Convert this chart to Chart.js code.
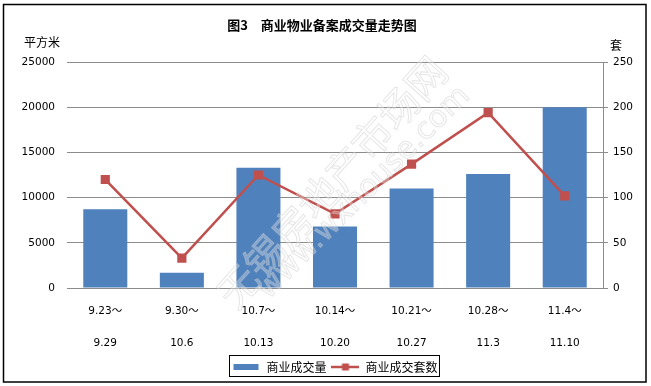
<!DOCTYPE html>
<html>
<head>
<meta charset="utf-8">
<script src="https://cdn.jsdelivr.net/npm/chart.js@4/dist/chart.umd.min.js"></script>
<style>
    body { margin: 0; background: #fff; }
</style>
</head>
<body>
<canvas id="chart" width="651" height="386"></canvas>
<script>
// weekly periods (two-line labels)
const periodStart = ['9.23～', '9.30～', '10.7～', '10.14～', '10.21～', '10.28～', '11.4～'];
const periodEnd   = ['9.29', '10.6', '10.13', '10.20', '10.27', '11.3', '11.10'];

// series
const areaSold  = [8700, 1700, 13300, 6800, 11000, 12600, 20000];   // 平方米
const unitsSold = [120, 33, 125, 82, 137, 194, 102];                 // 套

// axis ranges
const areaAxis  = { min: 0, max: 25000, step: 5000 };
const unitsAxis = { min: 0, max: 250, step: 50 };

const barColor  = '#4F81BD';
const lineColor = '#C0504D';
const gridColor = '#8C8C8C';
const tickFont  = { family: 'DejaVu Sans, "Noto Sans CJK SC"', size: 10.5 };
const cjkFont   = '"Noto Sans CJK SC", sans-serif';

// legend swatches drawn on small canvases
const makeSwatch = (draw) => {
    const c = document.createElement('canvas');
    c.width = 28; c.height = 10;
    draw(c.getContext('2d'));
    return c;
};
const barSwatch = makeSwatch(ctx => {
    ctx.fillStyle = barColor;
    ctx.fillRect(1, 2, 25, 6);
});
const lineSwatch = makeSwatch(ctx => {
    ctx.strokeStyle = lineColor;
    ctx.lineWidth = 2.5;
    ctx.beginPath(); ctx.moveTo(0, 5); ctx.lineTo(28, 5); ctx.stroke();
    ctx.fillStyle = lineColor;
    ctx.fillRect(10.5, 1.5, 7, 7);
});
const swatches = [barSwatch, lineSwatch];

// frame, title, axis units, watermark, legend border
const decorations = {
    id: 'decorations',
    afterLayout(chart) {
        // legend is centred on the plot area, not the whole canvas
        const shift = (chart.chartArea.left + chart.chartArea.right) / 2 - chart.width / 2;
        chart.legend.left += shift;
        chart.legend.right += shift;
    },
    beforeDraw(chart) {
        const ctx = chart.ctx;
        ctx.save();
        ctx.fillStyle = '#fff';
        ctx.fillRect(0, 0, chart.width, chart.height);
        ctx.strokeStyle = '#000';
        ctx.lineWidth = 1.5;
        ctx.strokeRect(3.5, 4.5, 642.5, 377.5);

        ctx.fillStyle = '#000';
        ctx.textAlign = 'center';
        ctx.textBaseline = 'middle';
        ctx.font = 'bold 13px ' + cjkFont;
        ctx.fillText('图3　商业物业备案成交量走势图', 322, 25);
        ctx.font = '12px ' + cjkFont;
        ctx.fillText('平方米', 42, 42);
        ctx.fillText('套', 616, 45);
        ctx.restore();
    },
    afterDatasetsDraw(chart) {
        const ctx = chart.ctx;
        ctx.save();
        ctx.textAlign = 'center';
        ctx.textBaseline = 'middle';
        ctx.lineWidth = 1;
        ctx.strokeStyle = 'rgba(200,200,200,0.45)';
        ctx.fillStyle = 'rgba(255,255,255,0.3)';

        ctx.save();
        ctx.translate(332, 182);
        ctx.rotate(-48 * Math.PI / 180);
        ctx.font = '40px ' + cjkFont;
        ctx.fillText('无锡房地产市场网', 0, 0);
        ctx.strokeText('无锡房地产市场网', 0, 0);
        ctx.restore();

        ctx.save();
        ctx.translate(364, 193);
        ctx.rotate(-45 * Math.PI / 180);
        ctx.font = '30px "DejaVu Sans", sans-serif';
        ctx.fillText('www.wxhouse.com', 0, 0);
        ctx.strokeText('www.wxhouse.com', 0, 0);
        ctx.restore();
        ctx.restore();
    },
    afterDraw(chart) {
        const boxes = chart.legend.legendHitBoxes;
        if (!boxes || !boxes.length) return;
        const first = boxes[0];
        const last = boxes[boxes.length - 1];
        const ctx = chart.ctx;
        ctx.save();
        ctx.strokeStyle = '#000';
        ctx.lineWidth = 1;
        ctx.strokeRect(Math.round(first.left) - 2.5, 355.5, Math.round(last.left + last.width - first.left) + 5, 21);
        ctx.restore();
    }
};

new Chart(document.getElementById('chart'), {
    type: 'bar',
    data: {
        labels: periodStart.map((s, i) => [s, periodEnd[i]]),
        datasets: [
            {
                label: '商业成交量',
                data: areaSold,
                backgroundColor: barColor,
                yAxisID: 'y',
                categoryPercentage: 1,
                barPercentage: 0.575,
                order: 2
            },
            {
                type: 'line',
                label: '商业成交套数',
                data: unitsSold,
                borderColor: lineColor,
                backgroundColor: lineColor,
                borderWidth: 2.5,
                pointStyle: 'rect',
                pointRadius: 6.5,
                pointHoverRadius: 6.5,
                pointBorderWidth: 0,
                tension: 0,
                yAxisID: 'y1',
                order: 1
            }
        ]
    },
    options: {
        responsive: false,
        animation: false,
        devicePixelRatio: 1,
        layout: {
            padding: { top: 62, bottom: 3, left: 0, right: 0 }
        },
        plugins: {
            title: { display: false },
            tooltip: { enabled: false },
            legend: {
                position: 'bottom',
                labels: {
                    usePointStyle: true,
                    pointStyleWidth: 28,
                    padding: 5,
                    color: '#000',
                    font: { family: cjkFont, size: 12 },
                    generateLabels(chart) {
                        const items = Chart.defaults.plugins.legend.labels.generateLabels(chart);
                        items.forEach(item => {
                            item.pointStyle = swatches[item.datasetIndex];
                        });
                        return items.sort((a, b) => a.datasetIndex - b.datasetIndex);
                    }
                }
            }
        },
        scales: {
            x: {
                grid: { display: false, drawTicks: false },
                border: { display: false },
                ticks: {
                    color: '#000',
                    font: { ...tickFont, lineHeight: 3 },
                    padding: 8,
                    maxRotation: 0,
                    autoSkip: false
                },
                afterFit(scale) { scale.height = 68; }
            },
            y: {
                position: 'left',
                min: areaAxis.min,
                max: areaAxis.max,
                grid: { color: gridColor, lineWidth: 1, drawTicks: false },
                border: { display: false },
                ticks: {
                    stepSize: areaAxis.step,
                    color: '#000',
                    font: tickFont,
                    padding: 12,
                    callback: v => String(v)
                },
                afterFit(scale) { scale.width = 67; }
            },
            y1: {
                position: 'right',
                min: unitsAxis.min,
                max: unitsAxis.max,
                grid: { drawOnChartArea: false, color: gridColor, tickLength: 5 },
                border: { display: true, color: gridColor, width: 1 },
                ticks: {
                    stepSize: unitsAxis.step,
                    color: '#000',
                    font: tickFont,
                    padding: 5,
                    callback: v => String(v)
                },
                afterFit(scale) { scale.width = 48; }
            }
        }
    },
    plugins: [decorations]
});
</script>
</body>
</html>
